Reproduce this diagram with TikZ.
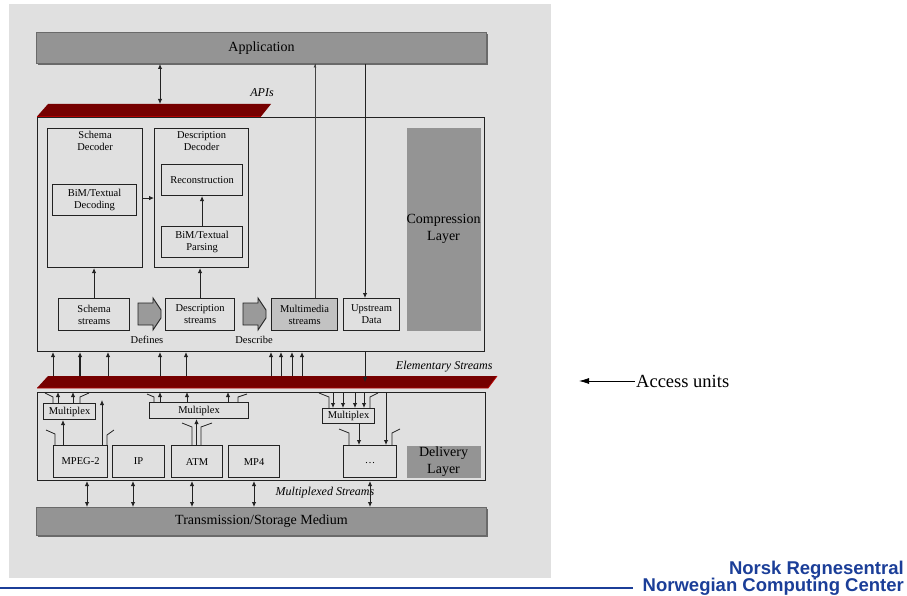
\documentclass[tikz,border=0pt]{standalone}
\usepackage{fontspec}
\setmainfont{Liberation Serif}
\newfontfamily\nrfont{Liberation Sans}
\usetikzlibrary{arrows.meta}
\definecolor{panel}{HTML}{E0E0E0}
\definecolor{bargrey}{HTML}{949494}
\definecolor{bardark}{HTML}{6A6A6A}
\definecolor{esred}{HTML}{760000}
\definecolor{esredl}{HTML}{B40000}
\definecolor{linec}{HTML}{222222}
\definecolor{mmfill}{HTML}{C2C2C2}
\definecolor{blkgrey}{HTML}{9A9A9A}
\definecolor{nrblue}{HTML}{1B3E98}
\newcommand\lbl{\fontsize{10.5}{12}\selectfont}
\newcommand\lblL{\fontsize{14}{16.5}\selectfont}
\newcommand\lblI{\fontsize{12}{14}\selectfont\itshape}
\newcommand\mybx[7]{\node[box,#6,minimum width={#4-#2},minimum height={#5-#3}] (#1) at (#2,#3) {#7};}
\newcommand\blkarrow[2]{\filldraw[fill=blkgrey,draw=linec,line width=0.9pt] (#1,#2-11) -- ++(15,0) -- ++(0,-5) -- ++(8,12) -- ++(0,8) -- ++(-8,12) -- ++(0,-5) -- ++(-15,0) -- cycle;}
\tikzset{
  box/.style={draw=linec,line width=1.1pt,inner sep=0pt,anchor=north west,font=\lbl,align=center},
  greybox/.style={fill=bargrey,draw=none,font=\lblL},
  barbox/.style={fill=bargrey,draw=bardark,line width=1pt,font=\lblL},
  ghost/.style={inner sep=0pt,anchor=north west},
  arr/.style={-{Latex[length=5pt,width=4.5pt]},line width=0.9pt,draw=linec},
  darr/.style={{Latex[length=5pt,width=4.5pt]}-{Latex[length=5pt,width=4.5pt]},line width=0.9pt,draw=linec},
  stub/.style={line width=0.8pt,draw=linec},
  thinln/.style={line width=0.8pt,draw=linec!85},
}
\begin{document}
\begin{tikzpicture}[x=1pt,y=-1pt]
\useasboundingbox (0,0) rectangle (907,596);
\fill[panel] (9,4) rectangle (551,578);

% ---------- Application ----------
\fill[bardark] (38,34) rectangle (488,65);
\mybx{app}{36}{32}{486}{63}{barbox}{Application}
\node[font=\lblI] (apis) at (262,93) {APIs};
% API bar
\node[ghost,minimum width=234,minimum height=12.5] (apibar) at (37,104) {};
\draw[thinln] (315,0 |- app.south) -- (315,0 |- apibar.north);

% ---------- Compression layer ----------
\mybx{comp}{37}{117}{484}{351}{}{}
\fill[esred] (48,104) -- (271,104) -- (261,116.5) -- (37,116.5) -- cycle;
\draw[esredl,line width=0.8pt] (37,116.5) -- (261,116.5);
\draw[darr] (160,0 |- app.south) -- (160,0 |- apibar.north);

\mybx{schdec}{47}{128}{142}{267}{}{}
\node[below=3pt,font=\lbl,align=center,inner sep=0pt] at (schdec.north) {Schema\\Decoder};
\mybx{bimdec}{52}{184}{136}{215}{}{BiM/Textual\\Decoding}
\mybx{descdec}{154}{128}{248}{267}{}{}
\node[below=3pt,font=\lbl,align=center,inner sep=0pt] at (descdec.north) {Description\\Decoder};
\mybx{recon}{161}{164}{242}{195}{}{Reconstruction}
\mybx{parse}{161}{226}{242}{257}{}{BiM/Textual\\Parsing}
\draw[arr] (schdec.east) -- (descdec.west);
\draw[arr] (parse.north) -- (recon.south);

\mybx{schstr}{58}{298}{129}{330}{}{Schema\\streams}
\mybx{descstr}{165}{298}{234}{330}{}{Description\\streams}
\mybx{mm}{271}{298}{337}{330}{fill=mmfill}{Multimedia\\streams}
\mybx{upd}{343}{298}{399}{330}{}{Upstream\\Data}
\mybx{complay}{406}{127}{480}{330}{greybox}{}
\node[font=\lblL,align=center] at (complay.center) {Compression\\Layer};

\draw[arr] (schstr.north) -- (schstr.north |- schdec.south);
\draw[arr] (descstr.north) -- (descstr.north |- descdec.south);
\blkarrow{138}{314}
\blkarrow{243}{314}
\node[font=\lbl] (defines) at (147,340) {Defines};
\node[font=\lbl] (describe) at (254,340) {Describe};

\draw[thinln,{Latex[length=3.5pt,width=3pt]}-] (315,0 |- app.south) -- (315,0 |- mm.north);
\draw[arr] (365,0 |- app.south) -- (365,0 |- upd.north);

% ---------- Elementary streams bar ----------
\node[ghost,minimum width=460,minimum height=12] (esbar) at (37,376) {};
\fill[esred] (48,376) -- (497,376) -- (488,388) -- (37,388) -- cycle;
\draw[esredl,line width=0.8pt] (37,388) -- (488,388) -- (497,376);
\node[anchor=east,font=\lblI] (eslab) at (496,367) {Elementary Streams};
\foreach \x in {53,108,160,186,271,281,292,302}
  \draw[arr] (\x,0 |- esbar.north) -- (\x,0 |- comp.south);
\draw[arr,line width=2pt] (80,0 |- esbar.north) -- (80,0 |- comp.south);
\draw[arr] (365,0 |- comp.south) -- (365,0 |- esbar.center);

% ---------- Delivery layer ----------
\mybx{deliv}{37}{392}{485}{480}{}{}
\mybx{mux1}{43}{403}{95}{419}{}{Multiplex}
\mybx{mux2}{149}{402}{248}{418}{}{Multiplex}
\mybx{mux3}{322}{408}{374}{423}{}{Multiplex}
\mybx{mpeg}{53}{445}{107}{477}{}{MPEG-2}
\mybx{ip}{112}{445}{164}{477}{}{IP}
\mybx{atm}{171}{445}{222}{477}{}{ATM}
\mybx{mpf}{228}{445}{279}{477}{}{MP4}
\mybx{dots}{343}{445}{396}{477}{}{\raisebox{-4pt}{\dots}}
\mybx{dellay}{406}{445}{480}{477}{greybox}{Delivery\\Layer}

% mux1
\foreach \x in {58,73} \draw[arr] (\x,0 |- mux1.north) -- (\x,0 |- deliv.north);
\draw[stub] (45,393) -- (53,397) -- (53,0 |- mux1.north);
\draw[stub] (80,0 |- mux1.north) -- (80,397) -- (89,393);
\draw[arr] (63,0 |- mpeg.north) -- (63,0 |- mux1.south);
\coordinate (mpup) at (102,400);
\draw[arr] (102,0 |- mpeg.north) -- (mpup);
\draw[stub] (46,430) -- (55,434) -- (55,0 |- mpeg.north);
\draw[stub] (107,0 |- mpeg.north) -- (107,435) -- (114,430);
% mux2
\foreach \x in {160,187,228} \draw[arr] (\x,0 |- mux2.north) -- (\x,0 |- deliv.north);
\draw[stub] (147,394) -- (154,397) -- (154,0 |- mux2.north);
\draw[stub] (238,0 |- mux2.north) -- (238,397) -- (247,394);
\draw[arr] (196.5,0 |- atm.north) -- (196.5,0 |- mux2.south);
\draw[stub] (192,0 |- atm.north) -- (192,427) -- (182,423);
\draw[stub] (201,0 |- atm.north) -- (201,427) -- (212,423);
% mux3
\foreach \x in {333,343,355,364} \draw[arr] (\x,0 |- deliv.north) -- (\x,0 |- mux3.north);
\draw[stub] (319,393) -- (329,397) -- (329,0 |- mux3.north);
\draw[stub] (370,0 |- mux3.north) -- (370,397) -- (378,393);
\draw[arr] (359,0 |- mux3.south) -- (359,0 |- dots.north);
\draw[arr] (386,0 |- deliv.north) -- (386,0 |- dots.north);
\draw[stub] (339,429) -- (349,433) -- (349,0 |- dots.north);
\draw[stub] (400,429) -- (392,433) -- (392,0 |- dots.north);

% ---------- Transmission ----------
\fill[bardark] (38,509) rectangle (488,537);
\mybx{trans}{36}{507}{486}{535}{barbox}{Transmission/Storage Medium}
\node[font=\lblI] (mslab) at (325,493) {Multiplexed Streams};
\foreach \x in {87,133,192,254,370}
  \draw[darr] (\x,0 |- deliv.south) -- (\x,0 |- trans.north);

% ---------- Access units ----------
\node[anchor=west,inner sep=1pt,font=\fontsize{18.5}{20}\selectfont] (acc) at (635,381) {Access units};
\coordinate (acctip) at (579,381);
\draw[-{Latex[length=10pt,width=6pt]},line width=0.8pt] (acc.west) -- (acctip);

% ---------- Footer ----------
\draw[nrblue,line width=1.8pt] (0,588) -- (633,588);
\node[anchor=base east,inner sep=0pt,text=nrblue,font=\nrfont\bfseries\fontsize{18.5}{19}\selectfont] (nr1) at (904,574) {Norsk Regnesentral};
\node[anchor=base east,inner sep=0pt,text=nrblue,font=\nrfont\bfseries\fontsize{18.5}{19}\selectfont] (nr2) at (904,591) {Norwegian Computing Center};
\end{tikzpicture}
\end{document}
